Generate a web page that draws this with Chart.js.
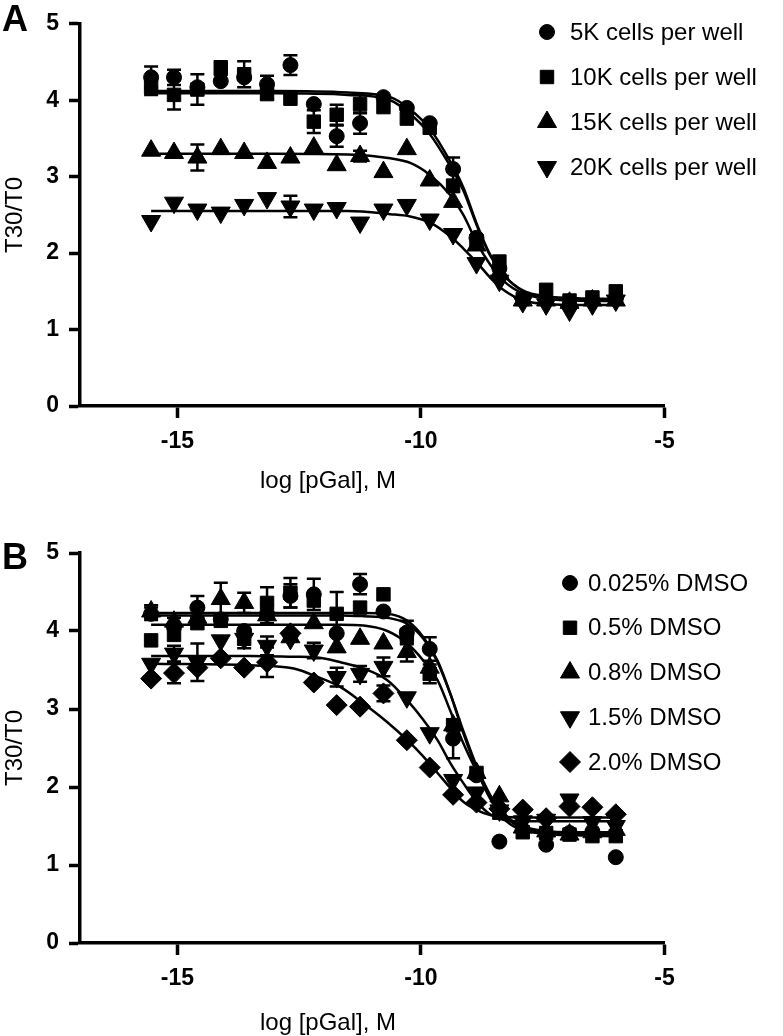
<!DOCTYPE html>
<html>
<head>
<meta charset="utf-8">
<script src="https://cdn.jsdelivr.net/npm/chart.js@4.4.0/dist/chart.umd.min.js"></script>
<style>
  body { margin: 0; background: #fff; }
  #wrap { width: 783px; height: 1036px; }
  canvas { display: block; }
</style>
</head>
<body>
<div id="wrap">
  <canvas id="chartA" width="783" height="520"></canvas>
  <canvas id="chartB" width="783" height="516"></canvas>
</div>
<script>
// log [pGal], M  (3-fold dilution series)
const logConc = [-15.54, -15.07, -14.59, -14.11, -13.63, -13.16, -12.68, -12.20, -11.73, -11.25, -10.77,
                 -10.29, -9.82, -9.34, -8.86, -8.39, -7.91, -7.43, -6.95, -6.48, -6.00];
const xTicks = [-15, -10, -5];
const yTicks = [0, 1, 2, 3, 4, 5];

// panel A: cells per well
const labelsA = ['5K cells per well', '10K cells per well', '15K cells per well', '20K cells per well'];
const cells5K  = [4.30, 4.30, 4.17, 4.25, 4.30, 4.21, 4.46, 3.95, 3.53, 3.70, 4.04, 3.90, 3.70, 3.10, 2.20, 1.80, 1.40, 1.38, 1.32, 1.38, 1.40];
const err5K    = [0.14, 0.10, 0, 0, 0, 0.11, 0.13, 0, 0.14, 0.14, 0, 0, 0, 0.15, 0, 0, 0, 0, 0, 0, 0];
const cells10K = [4.17, 4.07, 4.14, 4.42, 4.34, 4.08, 4.02, 3.72, 3.81, 3.95, 3.91, 3.76, 3.64, 2.88, 2.16, 1.89, 1.40, 1.52, 1.38, 1.42, 1.50];
const err10K   = [0.10, 0.19, 0.20, 0.09, 0.17, 0.06, 0, 0.15, 0.13, 0.12, 0, 0, 0, 0.08, 0, 0, 0, 0, 0, 0, 0];
const cells15K = [3.34, 3.31, 3.25, 3.36, 3.31, 3.18, 3.25, 3.38, 3.15, 3.27, 3.06, 3.36, 2.95, 2.67, 2.10, 1.74, 1.38, 1.38, 1.35, 1.38, 1.38];
const err15K   = [0, 0, 0.17, 0, 0, 0, 0, 0, 0, 0.07, 0, 0, 0, 0, 0, 0, 0, 0, 0, 0, 0];
const cells20K = [2.42, 2.66, 2.57, 2.53, 2.63, 2.72, 2.61, 2.57, 2.59, 2.40, 2.57, 2.63, 2.44, 2.25, 1.87, 1.64, 1.36, 1.33, 1.25, 1.33, 1.38];
const err20K   = [0, 0, 0, 0, 0, 0, 0.14, 0, 0, 0, 0, 0, 0, 0, 0, 0, 0, 0, 0, 0, 0];

// fitted curves
const curveXA = [-15.54, -13.0, -11.5, -10.63, -10.22, -9.81, -9.40, -9.13, -8.84, -8.58, -8.31, -7.90, -7.35, -6.80, -6.00];
const fit5K   = [4.12, 4.12, 4.10, 4.04, 3.88, 3.62, 3.20, 2.86, 2.36, 1.98, 1.72, 1.50, 1.41, 1.38, 1.37];
const fit10K  = [4.09, 4.09, 4.07, 4.00, 3.82, 3.55, 3.14, 2.82, 2.34, 1.97, 1.72, 1.51, 1.43, 1.41, 1.40];
const fit15K  = [3.30, 3.30, 3.29, 3.24, 3.18, 3.02, 2.76, 2.50, 2.12, 1.85, 1.64, 1.47, 1.40, 1.38, 1.38];
const fit20K  = [2.55, 2.55, 2.55, 2.51, 2.48, 2.40, 2.22, 2.06, 1.87, 1.68, 1.52, 1.38, 1.33, 1.32, 1.32];

// panel B: DMSO
const labelsB = ['0.025% DMSO', '0.5% DMSO', '0.8% DMSO', '1.5% DMSO', '2.0% DMSO'];
const dmso025 = [4.22, 4.05, 4.30, 4.15, 4.00, 4.22, 4.45, 4.47, 3.97, 4.60, 4.25, 3.98, 3.77, 2.62, 2.15, 1.30, 1.45, 1.26, 1.41, 1.43, 1.10];
const err025  = [0.08, 0, 0.15, 0, 0, 0.12, 0.15, 0.20, 0, 0.13, 0, 0.15, 0.15, 0.25, 0, 0, 0, 0, 0, 0, 0];
const dmso05  = [3.88, 3.95, 4.10, 4.13, 3.90, 4.36, 4.49, 4.39, 4.22, 4.30, 4.47, 3.95, 3.45, 2.79, 2.18, 1.67, 1.42, 1.41, 1.39, 1.37, 1.37];
const err05   = [0, 0, 0, 0, 0.12, 0.20, 0.19, 0, 0.28, 0, 0, 0, 0.12, 0, 0, 0, 0, 0, 0, 0, 0];
const dmso08  = [4.25, 4.12, 4.17, 4.41, 4.36, 4.20, 3.92, 4.10, 3.79, 3.90, 3.84, 3.73, 3.53, 2.79, 2.18, 1.88, 1.48, 1.43, 1.39, 1.42, 1.45];
const err08   = [0.08, 0.05, 0, 0.21, 0.13, 0, 0, 0, 0, 0, 0, 0.12, 0, 0, 0, 0, 0, 0, 0, 0, 0];
const dmso15  = [3.58, 3.71, 3.60, 3.88, 3.90, 3.81, 3.90, 3.75, 3.41, 3.45, 3.54, 3.15, 2.69, 2.09, 1.93, 1.70, 1.56, 1.58, 1.84, 1.55, 1.50];
const err15   = [0, 0.10, 0.24, 0, 0, 0.12, 0, 0.10, 0.12, 0.10, 0.12, 0, 0, 0, 0, 0, 0, 0, 0, 0, 0];
const dmso20  = [3.39, 3.46, 3.53, 3.65, 3.53, 3.60, 3.97, 3.34, 3.05, 3.03, 3.20, 2.60, 2.25, 1.90, 1.80, 1.72, 1.71, 1.60, 1.75, 1.74, 1.65];
const err20   = [0, 0.13, 0, 0, 0, 0.19, 0, 0, 0, 0, 0.10, 0, 0, 0, 0, 0, 0, 0, 0, 0, 0];

const curveXB = [-15.54, -13.50, -12.61, -12.12, -11.65, -11.18, -10.69, -10.28, -9.95, -9.66, -9.40, -9.13, -8.84, -8.58, -8.31, -8.02, -7.49, -6.80, -6.00];
const fit025  = [4.23, 4.23, 4.23, 4.23, 4.23, 4.23, 4.22, 4.13, 3.92, 3.62, 3.20, 2.69, 2.20, 1.85, 1.60, 1.47, 1.40, 1.38, 1.37];
const fit05   = [4.20, 4.20, 4.20, 4.20, 4.20, 4.19, 4.17, 4.09, 3.90, 3.60, 3.20, 2.72, 2.24, 1.90, 1.65, 1.50, 1.42, 1.40, 1.40];
const fit08   = [4.08, 4.08, 4.08, 4.08, 4.08, 4.07, 4.00, 3.84, 3.62, 3.37, 2.98, 2.56, 2.18, 1.88, 1.67, 1.52, 1.44, 1.42, 1.42];
const fit15   = [3.68, 3.68, 3.67, 3.66, 3.60, 3.52, 3.37, 3.11, 2.86, 2.60, 2.31, 2.05, 1.80, 1.65, 1.58, 1.56, 1.56, 1.56, 1.56];
const fit20   = [3.58, 3.56, 3.52, 3.41, 3.28, 3.07, 2.83, 2.60, 2.39, 2.18, 1.99, 1.81, 1.70, 1.64, 1.62, 1.61, 1.61, 1.61, 1.61];

const family = "'Liberation Sans', Arial, Helvetica, sans-serif";
const symbols = {
  circle:   { pointStyle: 'circle',   radius: 7.5,  rotation: 0 },
  square:   { pointStyle: 'rect',     radius: 9.5,  rotation: 0 },
  triangle: { pointStyle: 'triangle', radius: 11,   rotation: 0 },
  triDown:  { pointStyle: 'triangle', radius: 11,   rotation: 180 },
  diamond:  { pointStyle: 'rectRot',  radius: 10.5, rotation: 0 }
};

function pointSet(label, values, errors, sym) {
  const s = symbols[sym];
  return {
    label,
    data: logConc.map((x, i) => ({ x, y: values[i] })),
    errors,
    showLine: false,
    pointStyle: s.pointStyle,
    pointRadius: s.radius,
    pointRotation: s.rotation,
    backgroundColor: '#000',
    borderColor: '#000',
    borderWidth: 1,
    clip: false
  };
}

function fitSet(xs, values) {
  return {
    data: xs.map((x, i) => ({ x, y: values[i] })),
    showLine: true,
    pointRadius: 0,
    borderColor: '#000',
    borderWidth: 2.5,
    cubicInterpolationMode: 'monotone',
    clip: false
  };
}

const errorBars = {
  id: 'errorBars',
  beforeDatasetsDraw(chart) {
    const { ctx, scales: { x, y } } = chart;
    ctx.save();
    ctx.strokeStyle = '#000';
    ctx.lineWidth = 2.5;
    chart.data.datasets.forEach(ds => {
      if (!ds.errors) return;
      ds.data.forEach((p, i) => {
        const e = ds.errors[i];
        if (!e) return;
        const px = x.getPixelForValue(p.x);
        const top = y.getPixelForValue(p.y + e);
        const bot = y.getPixelForValue(p.y - e);
        ctx.beginPath();
        ctx.moveTo(px, top); ctx.lineTo(px, bot);
        ctx.moveTo(px - 7, top); ctx.lineTo(px + 7, top);
        ctx.moveTo(px - 7, bot); ctx.lineTo(px + 7, bot);
        ctx.stroke();
      });
    });
    ctx.restore();
  }
};

// panel letter, x title and legend
function decor(cfg) {
  return {
    id: 'decor',
    afterDraw(chart) {
      const ctx = chart.ctx;
      ctx.save();
      ctx.fillStyle = '#000';
      ctx.strokeStyle = '#000';
      ctx.textBaseline = 'middle';
      ctx.textAlign = 'center';
      ctx.font = 'bold 36px ' + family;
      ctx.fillText(cfg.letter, 15, cfg.letterY);
      ctx.font = '24px ' + family;
      ctx.fillText('log [pGal], M', 328, cfg.titleY);
      ctx.textAlign = 'left';
      ctx.font = '24px ' + family;
      cfg.labels.forEach((label, i) => {
        const y = cfg.legendY + i * cfg.legendGap;
        const s = symbols[cfg.syms[i]];
        Chart.helpers.drawPoint(ctx, { pointStyle: s.pointStyle, radius: s.radius, rotation: s.rotation, borderWidth: 1 }, cfg.symX, y);
        ctx.fillText(label, cfg.textX, y + 1);
      });
      ctx.restore();
    }
  };
}

function makeChart(id, datasets, padTop, xAxisHeight, decorCfg) {
  return new Chart(document.getElementById(id), {
    type: 'scatter',
    data: { datasets },
    options: {
      responsive: false,
      animation: false,
      layout: { padding: { top: padTop, right: 118.5, left: 0, bottom: 0 } },
      plugins: { legend: { display: false }, tooltip: { enabled: false } },
      scales: {
        x: {
          type: 'linear', min: -17, max: -5,
          afterBuildTicks: s => { s.ticks = xTicks.map(v => ({ value: v })); },
          afterFit: s => { s.height = xAxisHeight; },
          border: { display: true, color: '#000', width: 3.5 },
          grid: { display: true, drawOnChartArea: false, drawTicks: true, tickLength: 12, tickWidth: 3.5, tickColor: '#000', color: '#000' },
          ticks: { color: '#000', padding: 10, maxRotation: 0, font: { family, size: 23, weight: 'bold' } }
        },
        y: {
          type: 'linear', min: 0, max: 5,
          afterBuildTicks: s => { s.ticks = yTicks.map(v => ({ value: v })); },
          afterFit: s => { s.width = 80; },
          border: { display: true, color: '#000', width: 3.5 },
          grid: { display: true, drawOnChartArea: false, drawTicks: true, tickLength: 11, tickWidth: 3.5, tickColor: '#000', color: '#000' },
          ticks: { color: '#000', padding: 10, font: { family, size: 23, weight: 'bold' } },
          title: { display: true, text: 'T30/T0', color: '#000', padding: { top: 1, bottom: 0 }, font: { family, size: 24 } }
        }
      }
    },
    plugins: [errorBars, decor(decorCfg)]
  });
}

makeChart('chartA', [
  pointSet(labelsA[0], cells5K, err5K, 'circle'),
  pointSet(labelsA[1], cells10K, err10K, 'square'),
  pointSet(labelsA[2], cells15K, err15K, 'triangle'),
  pointSet(labelsA[3], cells20K, err20K, 'triDown'),
  fitSet(curveXA, fit5K),
  fitSet(curveXA, fit10K),
  fitSet(curveXA, fit15K),
  fitSet(curveXA, fit20K)
], 15, 114, {
  letter: 'A', letterY: 21, titleY: 481,
  labels: labelsA, syms: ['circle', 'square', 'triangle', 'triDown'],
  symX: 547, textX: 570, legendY: 32, legendGap: 45
});

makeChart('chartB', [
  pointSet(labelsB[0], dmso025, err025, 'circle'),
  pointSet(labelsB[1], dmso05, err05, 'square'),
  pointSet(labelsB[2], dmso08, err08, 'triangle'),
  pointSet(labelsB[3], dmso15, err15, 'triDown'),
  pointSet(labelsB[4], dmso20, err20, 'diamond'),
  fitSet(curveXB, fit025),
  fitSet(curveXB, fit05),
  fitSet(curveXB, fit08),
  fitSet(curveXB, fit15),
  fitSet(curveXB, fit20)
], 33, 93, {
  letter: 'B', letterY: 39, titleY: 503,
  labels: labelsB, syms: ['circle', 'square', 'triangle', 'triDown', 'diamond'],
  symX: 570, textX: 588, legendY: 63, legendGap: 44.75
});
</script>
</body>
</html>
